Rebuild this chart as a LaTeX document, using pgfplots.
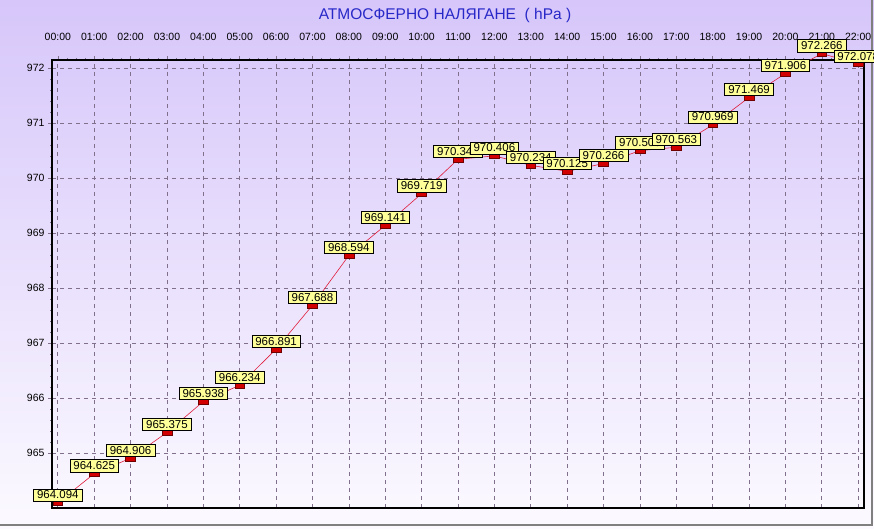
\documentclass[border=0pt]{standalone}
\usepackage{pgfplots}
\pgfplotsset{compat=1.18}
\usepackage{fontspec}
\setmainfont{Liberation Sans}
\definecolor{bgtop}{RGB}{214,198,250}
\definecolor{bgbot}{RGB}{252,250,255}
\definecolor{gridc}{RGB}{128,112,140}
\definecolor{lbl}{RGB}{255,255,153}
\definecolor{ttl}{RGB}{40,40,200}
\definecolor{linec}{RGB}{225,30,60}
\definecolor{markc}{RGB}{210,0,0}
\definecolor{markd}{RGB}{110,0,0}

\begin{document}
\begin{tikzpicture}[x=1pt,y=1pt]
  \useasboundingbox (0,0) rectangle (874,529);
  \shade[top color=bgtop, bottom color=bgbot] (0,0) rectangle (874,529);
  \draw[gray, line width=1.5pt] (0,4) -- (872,4) -- (872,529);
  \node[text=ttl, font=\fontsize{15.5}{17}\selectfont] at (445,514) {АТМОСФЕРНО НАЛЯГАНЕ \ ( hPa )};

  \begin{axis}[
    at={(52pt,21pt)}, anchor=south west,
    scale only axis, width=812pt, height=448pt,
    xmin=-0.16, xmax=22.16, ymin=964, ymax=972.15,
    xtick={0,...,22},
    xticklabels={00:00,01:00,02:00,03:00,04:00,05:00,06:00,07:00,08:00,09:00,10:00,11:00,12:00,13:00,14:00,15:00,16:00,17:00,18:00,19:00,20:00,21:00,22:00},
    xticklabel pos=upper, xtick pos=upper,
    ytick={965,...,972}, ytick pos=left,
    minor y tick num=4, minor x tick num=3,
    tick align=outside, major tick length=4pt, minor tick length=2pt,
    tick style={gridc, line width=0.6pt},
    xticklabel style={font=\fontsize{10.5}{12}\selectfont, yshift=12pt},
    yticklabel style={font=\fontsize{10.5}{12}\selectfont},
    /pgf/number format/assume math mode=true,
    /pgf/number format/.cd, fixed, precision=0, set thousands separator={}, /pgfplots/.cd,
    grid=major, major grid style={gridc, dashed, dash pattern=on 4pt off 4pt, line width=0.7pt},
    axis line style={black, line width=1.3pt},
    clip=false,
  ]
    \draw[black, line width=2.6pt] (rel axis cs:0,0) -- (rel axis cs:0,1) -- (rel axis cs:1,1);
    \addplot[linec, line width=0.6pt,
      mark=square*, mark size=2.8pt,
      mark options={xscale=1.75, fill=markc, draw=markd, line width=0.5pt, solid},
      nodes near coords,
      point meta=explicit symbolic,
      every node near coord/.style={anchor=south, yshift=1.5pt,
        fill=lbl, draw=black, line width=0.6pt, text=black,
        font=\fontsize{11.5}{13}\selectfont, inner xsep=3.5pt, inner ysep=2pt},
    ] table[meta=lab] {
      x y lab
      0 964.094 964.094
      1 964.625 964.625
      2 964.906 964.906
      3 965.375 965.375
      4 965.938 965.938
      5 966.234 966.234
      6 966.891 966.891
      7 967.688 967.688
      8 968.594 968.594
      9 969.141 969.141
      10 969.719 969.719
      11 970.344 970.344
      12 970.406 970.406
      13 970.234 970.234
      14 970.125 970.125
      15 970.266 970.266
      16 970.500 970.500
      17 970.563 970.563
      18 970.969 970.969
      19 971.469 971.469
      20 971.906 971.906
      21 972.266 972.266
      22 972.078 972.078
    };
  \end{axis}
\end{tikzpicture}
\end{document}
